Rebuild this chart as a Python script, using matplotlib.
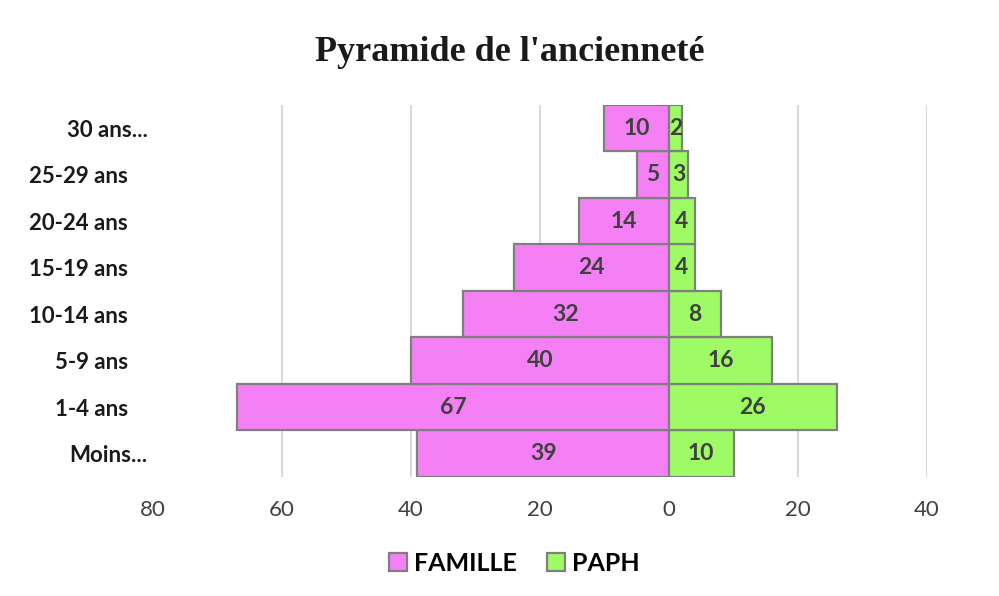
import matplotlib
matplotlib.use("Agg")
import matplotlib.pyplot as plt
import matplotlib.transforms as mtransforms
from matplotlib.patches import Patch

categories = ["Moins...", "1-4 ans", "5-9 ans", "10-14 ans", "15-19 ans", "20-24 ans", "25-29 ans", "30 ans..."]
famille = [39, 67, 40, 32, 24, 14, 5, 10]
paph = [10, 26, 16, 8, 4, 4, 3, 2]
xticks = [-80, -60, -40, -20, 0, 20, 40]

c_fam = "#F57FF5"
c_paph = "#9EFB66"
edge = "#7F7F7F"
lab_font = "Lato"

fig = plt.figure(figsize=(9.99, 5.96), dpi=100)
ax = fig.add_axes([0.153, 0.2, 0.775, 0.624])

y = list(range(len(categories)))
negf = [-v for v in famille]
ax.barh(y, negf, height=1.0, color=c_fam, edgecolor=edge, linewidth=1.6, zorder=3)
ax.barh(y, paph, height=1.0, color=c_paph, edgecolor=edge, linewidth=1.6, zorder=3)

for i, v in enumerate(famille):
    ax.text(-v / 2, i, str(v), ha="center", va="center", fontsize=16.5, fontweight="bold",
            color="#404040", family=lab_font, zorder=4)
for i, v in enumerate(paph):
    ax.text(v / 2, i, str(v), ha="center", va="center", fontsize=16.5, fontweight="bold",
            color="#404040", family=lab_font, zorder=4)

ax.set_xlim(-80, 40)
ax.set_ylim(-0.5, 7.5)
ax.set_xticks(xticks)
ax.set_xticklabels([str(abs(t)) for t in xticks], fontsize=16, color="#404040", family=lab_font)
ax.set_yticks(y)
ax.set_yticklabels(categories, fontsize=16, fontweight="bold", color="#1a1a1a", family=lab_font)
ax.tick_params(length=0)
ax.tick_params(axis="x", pad=17)
ax.tick_params(axis="y", pad=18)
for lbl in ax.get_yticklabels():
    if lbl.get_text().endswith("..."):
        lbl.set_transform(lbl.get_transform() + mtransforms.ScaledTranslation(20 / 100, 0, fig.dpi_scale_trans))
for s in ax.spines.values():
    s.set_visible(False)
ax.grid(axis="x", color="#D9D9D9", linewidth=1.5, zorder=0)
for gl in ax.get_xgridlines()[:1]:
    gl.set_visible(False)

fig.suptitle("Pyramide de l'ancienneté", x=0.51, y=0.94, fontsize=26, fontweight="bold",
             family="Liberation Serif", color="#1a1a1a")

handles = [Patch(facecolor=c_fam, edgecolor=edge, linewidth=1.6, label="FAMILLE"),
           Patch(facecolor=c_paph, edgecolor=edge, linewidth=1.6, label="PAPH")]
fig.legend(handles=handles, loc="center", bbox_to_anchor=(0.515, 0.055), ncol=2, frameon=False,
           prop={"family": lab_font, "weight": "bold", "size": 18},
           handlelength=0.7, handleheight=0.7, handletextpad=0.3, columnspacing=1.2)

fig.savefig("out.png", dpi=100)
